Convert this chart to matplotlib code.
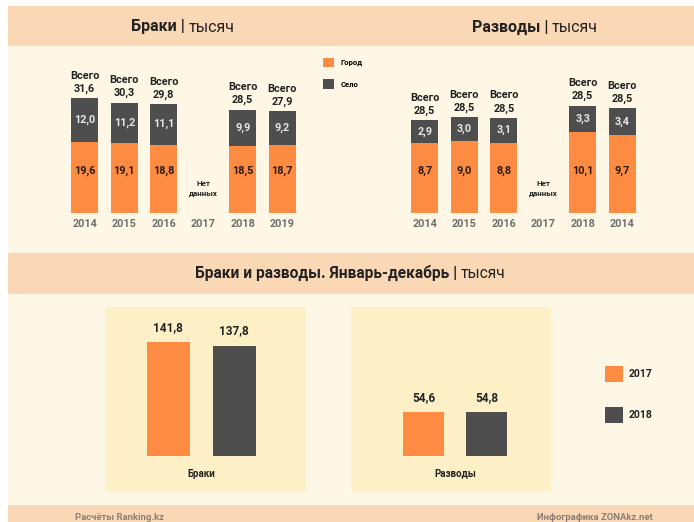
import numpy as np
import matplotlib.pyplot as plt
from matplotlib.patches import Rectangle

plt.rcParams['font.family'] = ['Roboto', 'DejaVu Sans']

# --- data ---
years = ["2014", "2015", "2016", "2017", "2018", "2019"]
marriage_city = [19.6, 19.1, 18.8, np.nan, 18.5, 18.7]
marriage_village = [12.0, 11.2, 11.1, np.nan, 9.9, 9.2]
marriage_total = [31.6, 30.3, 29.8, np.nan, 28.5, 27.9]

divorce_years = ["2014", "2015", "2016", "2017", "2018", "2014"]
divorce_city = [8.7, 9.0, 8.8, np.nan, 10.1, 9.7]
divorce_village = [2.9, 3.0, 3.1, np.nan, 3.3, 3.4]
divorce_total = [28.5, 28.5, 28.5, np.nan, 28.5, 28.5]

annual_groups = ["Браки", "Разводы"]
annual_2017 = [141.8, 54.6]
annual_2018 = [137.8, 54.8]

# --- colours ---
PEACH = "#fbd8b5"
CREAM = "#fef7e5"
PANEL = "#fdf0c6"
ORANGE = "#fd8b41"
DARK = "#4e4e4e"
TXT = "#222222"
GREY = "#6e6e6e"

W, H = 694, 522
fig = plt.figure(figsize=(W / 100, H / 100), dpi=100)
fig.patch.set_facecolor("white")


def rect(x0, y0, x1, y1, color):
    fig.add_artist(Rectangle((x0 / W, 1 - y1 / H), (x1 - x0) / W, (y1 - y0) / H,
                             transform=fig.transFigure, color=color, lw=0, zorder=0))


def px_axes(x0, y0, x1, y1):
    return fig.add_axes([x0 / W, 1 - y1 / H, (x1 - x0) / W, (y1 - y0) / H])


def fx(x):
    return x / W


def fy(y):
    return 1 - y / H


def fmt(v):
    return f"{v:.1f}".replace(".", ",")


# backgrounds
rect(8, 6, W, H, CREAM)
rect(8, 6, W, 46, PEACH)
rect(8, 253, W, 294, PEACH)
rect(8, 505, W, H, PEACH)

# headers (bold part + thin part)
def header(x_split, y, bold, thin, size):
    fig.text(fx(x_split), fy(y), bold, ha="right", va="center", fontsize=size,
             fontweight="bold", color=TXT)
    fig.text(fx(x_split), fy(y), thin, ha="left", va="center", fontsize=size, color=TXT)


header(189, 27, "Браки | ", "тысяч", 11.5)
header(552, 27, "Разводы | ", "тысяч", 11.5)
header(461, 273, "Браки и разводы. Январь-декабрь | ", "тысяч", 11.2)


def stacked(ax, labels, city, village, total, top):
    x = np.arange(len(labels))
    ok = [i for i in x if not np.isnan(city[i])]
    c = [city[i] for i in ok]
    v = [village[i] for i in ok]
    b1 = ax.bar(ok, c, width=0.68, color=ORANGE)
    b2 = ax.bar(ok, v, width=0.68, bottom=c, color=DARK)
    for i, ci, vi in zip(ok, c, v):
        ax.text(i, 0.275, fmt(ci), transform=ax.get_xaxis_transform(), ha="center",
                va="center", fontsize=7.8, fontweight="bold", color="#2a1a10")
        ax.text(i, ci + vi / 2, fmt(vi), ha="center", va="center", fontsize=7.8,
                fontweight="bold", color="#e6e6e6")
        ax.annotate(f"Всего\n{fmt(total[i])}", (i, ci + vi), xytext=(0, 3),
                    textcoords="offset points", ha="center", va="bottom",
                    fontsize=7.8, fontweight="bold", color=TXT, linespacing=1.35)
    for i in x:
        if i not in ok:
            ax.text(i, 0.16, "Нет\nданных", transform=ax.get_xaxis_transform(),
                    ha="center", va="center", fontsize=5.8, fontweight="bold",
                    color=TXT, linespacing=1.5)
    ax.set_xlim(-0.5, len(labels) - 0.5)
    ax.set_ylim(0, top)
    ax.set_xticks(x)
    ax.set_xticklabels(labels)
    ax.tick_params(axis="x", length=0, pad=4, labelsize=7.8, labelcolor=GREY)
    for t in ax.get_xticklabels():
        t.set_fontweight("bold")
    ax.set_yticks([])
    for s in ax.spines.values():
        s.set_visible(False)
    ax.patch.set_alpha(0)
    return b1, b2


ax1 = px_axes(65, 60, 302, 213)
h_city, h_village = stacked(ax1, years, marriage_city, marriage_village, marriage_total, 42)
ax2 = px_axes(405, 60, 642, 213)
stacked(ax2, divorce_years, divorce_city, divorce_village, divorce_total, 19.1)

fig.legend([h_city, h_village], ["Город", "Село"], loc="upper left",
           bbox_to_anchor=(fx(316), fy(51)), frameon=False,
           prop={"weight": "bold", "size": 5.5}, handlelength=1.5, handleheight=1.5,
           handletextpad=0.8, labelspacing=1.6)

# annual comparison panels
panels = [(105, 306, -0.96, 2.09), (351, 551, -1.15, 2.02)]
for k, (x0, x1, lo, hi) in enumerate(panels):
    ax = px_axes(x0, 307, x1, 492)
    ax.set_facecolor(PANEL)
    vals = [annual_2017[k], annual_2018[k]]
    bars = ax.bar([0, 1], vals, width=0.65, color=[ORANGE, DARK])
    for b, v in zip(bars, vals):
        ax.annotate(fmt(v), (b.get_x() + b.get_width() / 2, v), xytext=(0, 6),
                    textcoords="offset points", ha="center", va="bottom",
                    fontsize=8.5, fontweight="bold", color=TXT)
    ax.text(0.5, -22, annual_groups[k], ha="center", va="center", fontsize=7,
            fontweight="bold", color=TXT)
    ax.set_xlim(lo, hi)
    ax.set_ylim(-45, 186)
    ax.set_xticks([])
    ax.set_yticks([])
    for s in ax.spines.values():
        s.set_visible(False)

# legend for annual panels
for y0, col, lab in [(366, ORANGE, "2017"), (407, DARK, "2018")]:
    rect(605, y0, 623, y0 + 16, col)
    fig.text(fx(629), fy(y0 + 8), lab, ha="left", va="center", fontsize=7.5,
             fontweight="bold", color=TXT)

# footer
fig.text(fx(75), fy(517), "Расчёты Ranking.kz", ha="left", va="center",
         fontsize=6.8, color="#8c7f76", fontweight="bold")
fig.text(fx(653), fy(517), "Инфографика ZONAkz.net", ha="right", va="center",
         fontsize=6.8, color="#8c7f76", fontweight="bold")

fig.savefig("out.png", dpi=100)
